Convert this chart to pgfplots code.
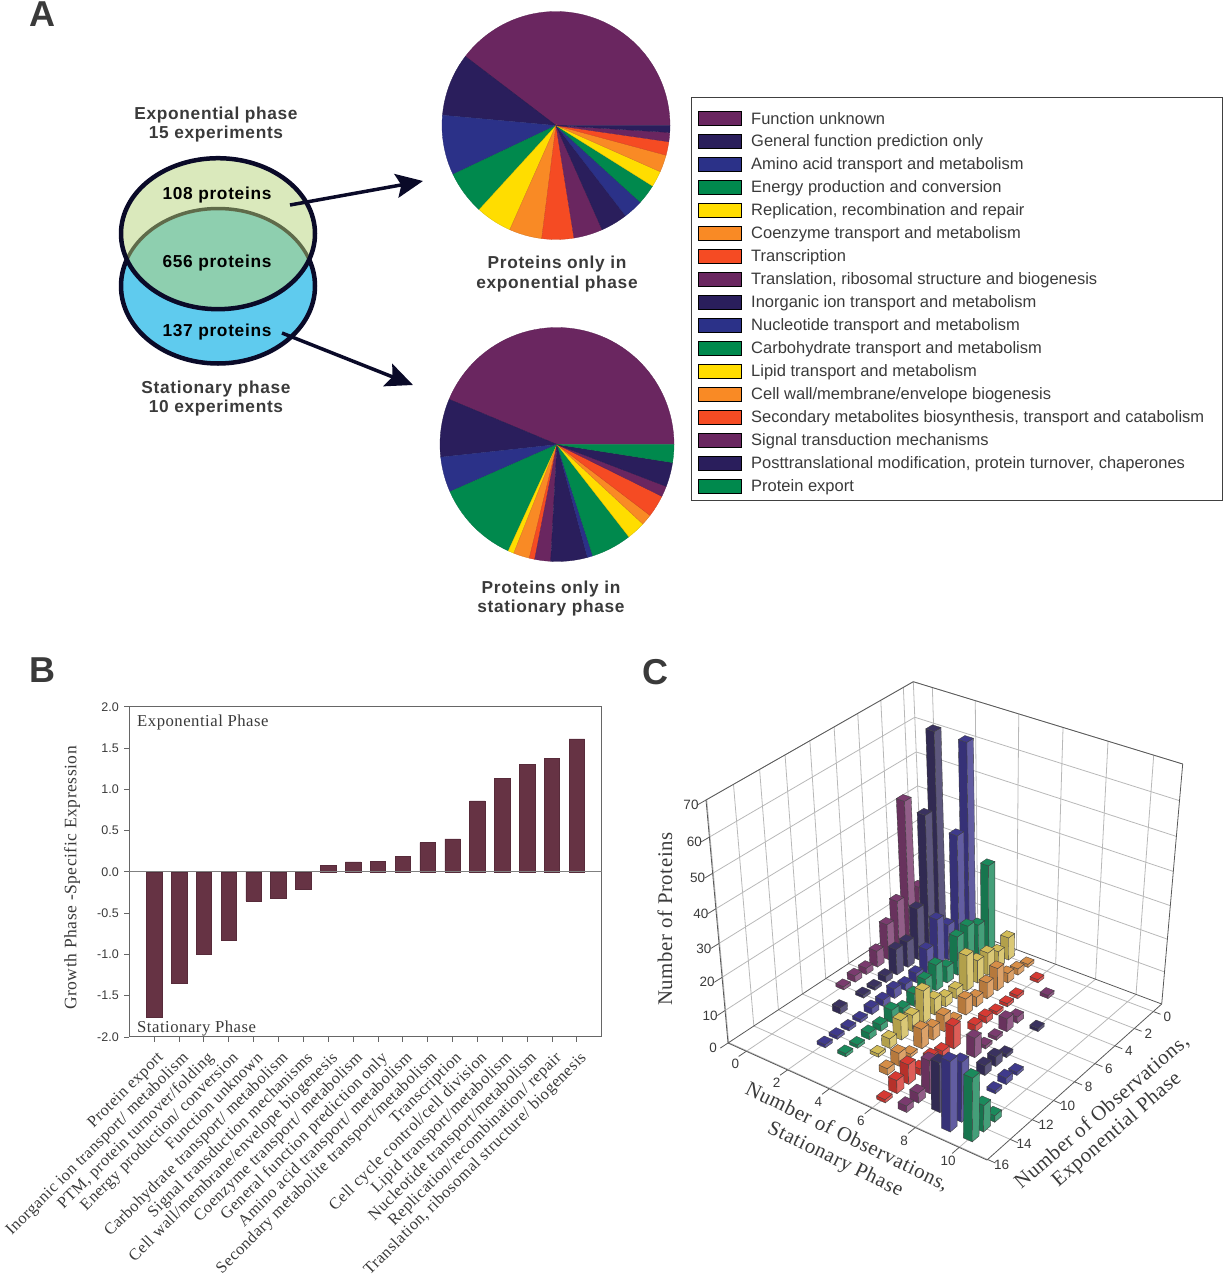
\documentclass[border=0pt]{standalone}
\usepackage{fontspec}
\usepackage{pgfplots}
\pgfplotsset{compat=1.18}
\usetikzlibrary{arrows.meta}
\setmainfont{Liberation Sans}
\newfontfamily\sansSp[LetterSpace=4]{Liberation Sans}
\newfontfamily\tnr{Liberation Serif}
\newfontfamily\tnrSp[LetterSpace=3]{Liberation Serif}
\newcommand\fs[1]{\fontsize{#1}{#1}\selectfont}

% pie / legend colours
\definecolor{cP}{HTML}{6A2660}
\definecolor{cN}{HTML}{2A1E5C}
\definecolor{cB}{HTML}{2B3188}
\definecolor{cG}{HTML}{00894D}
\definecolor{cY}{HTML}{FFDD00}
\definecolor{cO}{HTML}{F98A25}
\definecolor{cR}{HTML}{F54B23}
\definecolor{txt}{HTML}{3A3A3A}
\definecolor{arrowc}{HTML}{0A0A28}
\definecolor{vennBlue}{HTML}{5FCBEE}
\definecolor{vennLight}{HTML}{DAE9BC}
\definecolor{vennMid}{HTML}{8ECFAF}
\definecolor{vennOlive}{HTML}{5F6B4A}
\definecolor{barB}{HTML}{663344}
% 3d bar colours
\definecolor{rP}{HTML}{7A3B6E}
\definecolor{rN}{HTML}{3A3260}
\definecolor{rB}{HTML}{3F3A8C}
\definecolor{rG}{HTML}{1B8A5C}
\definecolor{rY}{HTML}{D2BC58}
\definecolor{rO}{HTML}{D68E48}
\definecolor{rR}{HTML}{D63A33}
\colorlet{rPl}{rP!85!black}\colorlet{rPr}{rP!82!white}
\colorlet{rNl}{rN!85!black}\colorlet{rNr}{rN!82!white}
\colorlet{rBl}{rB!85!black}\colorlet{rBr}{rB!82!white}
\colorlet{rGl}{rG!85!black}\colorlet{rGr}{rG!82!white}
\colorlet{rYl}{rY!85!black}\colorlet{rYr}{rY!82!white}
\colorlet{rOl}{rO!85!black}\colorlet{rOr}{rO!82!white}
\colorlet{rRl}{rR!85!black}\colorlet{rRr}{rR!82!white}

% one pie wedge: start angle, stop angle, colour
\newcommand\pieslice[3]{%
  \def\pts{(#1,0)}%
  \pgfmathtruncatemacro\nn{ceil((#2-#1)/3)}%
  \pgfplotsforeachungrouped \ii in {0,...,\nn}{%
    \pgfmathsetmacro\ang{#1+(#2-#1)*\ii/\nn}%
    \edef\pts{\pts (\ang,1)}}%
  \edef\tmp{\noexpand\addplot[fill=#3,draw=#3!85!black,line width=0.3pt,data cs=polar,forget plot] coordinates {\pts} --cycle;}\tmp}

% panel C box: stationary -0.9..11.25, exponential -0.9..16.05, count 0..70, corners in pixels
\newcommand\proj[4]{%
  \pgfmathsetmacro\tu{(#1+0.9)/12.15}\pgfmathsetmacro\tu{\tu/(1.05-0.05*\tu)}%
  \pgfmathsetmacro\tv{(#2+0.9)/16.95}\pgfmathsetmacro\tv{\tv/(1.11-0.11*\tv)}%
  \pgfmathsetmacro\tw{#3/70}\pgfmathsetmacro\tw{\tw/(1.08-0.08*\tw)}%
  \pgfmathsetmacro\pX{(1-\tw)*((1-\tv)*((1-\tu)*923+\tu*1161.7)+\tv*((1-\tu)*728+\tu*987))+\tw*((1-\tv)*((1-\tu)*913.3+\tu*1182.7)+\tv*((1-\tu)*706+\tu*990.7))}%
  \pgfmathsetmacro\pY{(1-\tw)*((1-\tv)*((1-\tu)*914.5+\tu*1004)+\tv*((1-\tu)*1043+\tu*1160))+\tw*((1-\tv)*((1-\tu)*681.7+\tu*764)+\tv*((1-\tu)*800+\tu*910))}%
  \expandafter\edef\csname #4\endcsname{\pX,\pY}}

% straight line in the box
\newcommand\boxline[7]{%
  \proj{#2}{#3}{#4}{pa}\proj{#5}{#6}{#7}{pb}%
  \edef\tmp{\noexpand\addplot[#1,forget plot] coordinates {(\pa) (\pb)};}\tmp}

% tick label beside a point of the box
\newcommand\boxlabel[6]{%
  \proj{#1}{#2}{#3}{pa}%
  \edef\tmp{\noexpand\node[ticklab,xshift=#4pt,yshift=#5pt] at (axis cs:\pa) {#6};}\tmp}

\newcommand\face[5]{%
  \edef\tmp{\noexpand\addplot[fill=#1,draw=black!75,line width=0.35pt,forget plot] coordinates {(#2) (#3) (#4) (#5)} --cycle;}\tmp}

% one bar: x, y, height, colour
\newcommand\barC[4]{%
  \pgfmathsetmacro\xa{#1-0.2}\pgfmathsetmacro\xb{#1+0.2}%
  \pgfmathsetmacro\ya{#2-0.3}\pgfmathsetmacro\yb{#2+0.3}%
  \proj{\xa}{\yb}{0}{qa}\proj{\xb}{\yb}{0}{qb}\proj{\xb}{\ya}{0}{qc}%
  \proj{\xa}{\yb}{#3}{ra}\proj{\xb}{\yb}{#3}{rb}\proj{\xb}{\ya}{#3}{rc}\proj{\xa}{\ya}{#3}{rd}%
  \face{#4l}{\qa}{\qb}{\rb}{\ra}%
  \face{#4r}{\qb}{\qc}{\rc}{\rb}%
  \face{#4}{\ra}{\rb}{\rc}{\rd}}

\newcommand\legitem[3]{%
  \draw[fill=#2,draw=black,line width=0.5pt] (axis cs:698,#1-7) rectangle (axis cs:741,#1+7);
  \node[anchor=west,inner sep=0pt,font=\fs{16.5},text=txt] at (axis cs:751,#1+1) {#3};}

\tikzset{
  ticklab/.style={font=\fs{13.5},text=txt,inner sep=0pt},
  boxedge/.style={color=black!65,line width=0.8pt},
  boxgrid/.style={color=black!28,line width=0.8pt},
  hd/.style={font=\fs{17.3}\sansSp\bfseries,text=txt,inner sep=0pt},
  panel/.style={font=\fs{36}\bfseries,text=txt,inner sep=0pt},
  captxt/.style={font=\fs{20.8}\tnrSp,text=txt,inner sep=0pt},
}

\begin{document}
\begin{tikzpicture}
\path[use as bounding box] (0,0) rectangle (1223pt,1280pt);

% page layer, coordinates are reference pixels
\begin{axis}[at={(0,0)},anchor=south west,hide axis,scale only axis,x=1pt,y=1pt,
  y dir=reverse,xmin=0,xmax=1223,ymin=0,ymax=1280,clip=false]
\node[panel] at (axis cs:42,14) {A};
\node[panel] at (axis cs:42,670) {B};
\node[panel] at (axis cs:655,672) {C};

% venn
\fill[fill=vennBlue] (axis cs:218,286) ellipse [x radius=97pt,y radius=77.5pt];
\draw[arrowc,line width=4.5pt] (axis cs:218,286) ellipse [x radius=97pt,y radius=77.5pt];
\fill[fill=vennLight] (axis cs:218,233.7) ellipse [x radius=97pt,y radius=75.5pt];
\begin{scope}
\clip (axis cs:218,233.7) ellipse [x radius=97pt,y radius=75.5pt];
\fill[fill=vennMid] (axis cs:218,286) ellipse [x radius=97pt,y radius=77.5pt];
\draw[color=vennOlive,line width=3.5pt] (axis cs:218,286) ellipse [x radius=97pt,y radius=77.5pt];
\end{scope}
\draw[arrowc,line width=4.5pt] (axis cs:218,233.7) ellipse [x radius=97pt,y radius=75.5pt];
\draw[arrowc,line width=3.5pt,-{Stealth[length=27pt,width=24pt,inset=5pt]}] (axis cs:290,205) -- (axis cs:423,181);
\draw[arrowc,line width=3.5pt,-{Stealth[length=27pt,width=24pt,inset=5pt]}] (axis cs:282,333) -- (axis cs:413,385);

\node[hd] at (axis cs:216,115) {Exponential phase};
\node[hd] at (axis cs:216,134) {15 experiments};
\node[hd] at (axis cs:216,389) {Stationary phase};
\node[hd] at (axis cs:216,408) {10 experiments};
\node[hd,text=black] at (axis cs:217,195) {108 proteins};
\node[hd,text=black] at (axis cs:217,263) {656 proteins};
\node[hd,text=black] at (axis cs:217,332) {137 proteins};
\node[hd] at (axis cs:557,264) {Proteins only in};
\node[hd] at (axis cs:557,284) {exponential phase};
\node[hd] at (axis cs:551,589) {Proteins only in};
\node[hd] at (axis cs:551,608) {stationary phase};

% legend
\draw[black!75,line width=0.7pt] (axis cs:691,97) rectangle (axis cs:1222,500);
\legitem{118}{cP}{Function unknown}
\legitem{141}{cN}{General function prediction only}
\legitem{164}{cB}{Amino acid transport and metabolism}
\legitem{187}{cG}{Energy production and conversion}
\legitem{210}{cY}{Replication, recombination and repair}
\legitem{233}{cO}{Coenzyme transport and metabolism}
\legitem{256}{cR}{Transcription}
\legitem{279}{cP}{Translation, ribosomal structure and biogenesis}
\legitem{302}{cN}{Inorganic ion transport and metabolism}
\legitem{325}{cB}{Nucleotide transport and metabolism}
\legitem{348}{cG}{Carbohydrate transport and metabolism}
\legitem{371}{cY}{Lipid transport and metabolism}
\legitem{394}{cO}{Cell wall/membrane/envelope biogenesis}
\legitem{417}{cR}{Secondary metabolites biosynthesis, transport and catabolism}
\legitem{440}{cP}{Signal transduction mechanisms}
\legitem{463}{cN}{Posttranslational modification, protein turnover, chaperones}
\legitem{486}{cG}{Protein export}

% panel B text
\node[font=\fs{17.5}\tnrSp,text=txt,rotate=90,inner sep=0pt] at (axis cs:72,878) {Growth Phase -Specific Expression};
\node[font=\fs{16.7}\tnrSp,text=txt,anchor=west,inner sep=0pt] at (axis cs:137,722) {Exponential Phase};
\node[font=\fs{16.7}\tnrSp,text=txt,anchor=west,inner sep=0pt] at (axis cs:137,1028) {Stationary Phase};

% panel C walls and floor
\pgfplotsforeachungrouped \zz in {10,20,...,70}{%
  \boxline{boxgrid}{-0.9}{16.05}{\zz}{-0.9}{-0.9}{\zz}%
  \boxline{boxgrid}{-0.9}{-0.9}{\zz}{11.25}{-0.9}{\zz}}
\pgfplotsforeachungrouped \vv in {0,2,...,16}{%
  \boxline{boxgrid}{-0.9}{\vv}{0}{-0.9}{\vv}{70}%
  \boxline{boxgrid}{-0.9}{\vv}{0}{11.25}{\vv}{0}}
\pgfplotsforeachungrouped \vv in {0,2,...,10}{%
  \boxline{boxgrid}{\vv}{-0.9}{0}{\vv}{-0.9}{70}%
  \boxline{boxgrid}{\vv}{-0.9}{0}{\vv}{16.05}{0}}
\boxline{boxgrid}{-0.9}{-0.9}{0}{-0.9}{-0.9}{70}
\boxline{boxedge}{-0.9}{16.05}{70}{-0.9}{-0.9}{70}
\boxline{boxedge}{-0.9}{-0.9}{70}{11.25}{-0.9}{70}
\boxline{boxedge}{-0.9}{16.05}{0}{-0.9}{16.05}{70}
\boxline{boxedge}{11.25}{-0.9}{0}{11.25}{-0.9}{70}
\boxline{boxedge}{-0.9}{16.05}{0}{11.25}{16.05}{0}
\boxline{boxedge}{11.25}{16.05}{0}{11.25}{-0.9}{0}
\boxline{boxedge}{-0.9}{16.05}{0}{-0.9}{-0.9}{0}
\boxline{boxedge}{-0.9}{-0.9}{0}{11.25}{-0.9}{0}

% panel C ticks and labels
\pgfplotsforeachungrouped \zz in {0,10,...,70}{%
  \boxline{boxedge}{-0.9}{16.05}{\zz}{-0.9}{16.65}{\zz}%
  \boxlabel{-0.9}{16.05}{\zz}{-15}{-5}{\zz}}
\pgfplotsforeachungrouped \vv in {0,2,...,10}{%
  \boxline{boxedge}{\vv}{16.05}{0}{\vv}{16.65}{0}%
  \boxlabel{\vv}{16.05}{0}{-11}{-13}{\vv}}
\pgfplotsforeachungrouped \vv in {0,2,...,16}{%
  \boxline{boxedge}{11.25}{\vv}{0}{11.6}{\vv}{0}%
  \boxlabel{11.25}{\vv}{0}{14}{-5}{\vv}}
\node[captxt,rotate=90] at (axis cs:665,919) {Number of Proteins};
\node[captxt,rotate=-26] at (axis cs:847,1137) {Number of Observations,};
\node[captxt,rotate=-26] at (axis cs:835,1160) {Stationary Phase};
\node[captxt,rotate=41] at (axis cs:1102,1112) {Number of Observations,};
\node[captxt,rotate=41] at (axis cs:1117,1130) {Exponential Phase};

% panel C bars, x y count, painted back to front
\barC{0}{1}{16}{rP}\barC{0}{2}{44}{rP}\barC{0}{3}{16}{rP}\barC{0}{4}{11}{rP}
\barC{0}{5}{5}{rP}\barC{0}{6}{2}{rP}\barC{0}{7}{2}{rP}\barC{0}{8}{1}{rP}
\barC{1}{1}{64}{rN}\barC{1}{2}{42}{rN}\barC{1}{3}{16}{rN}\barC{1}{4}{8}{rN}\barC{1}{5}{8}{rN}
\barC{1}{6}{2}{rN}\barC{1}{7}{1}{rN}\barC{1}{8}{1}{rN}\barC{1}{10}{2}{rN}
\barC{2}{0}{61}{rB}\barC{2}{1}{36}{rB}\barC{2}{2}{11}{rB}\barC{2}{3}{15}{rB}\barC{2}{4}{8}{rB}
\barC{2}{5}{3}{rB}\barC{2}{6}{2}{rB}\barC{2}{7}{3}{rB}\barC{2}{8}{2}{rB}\barC{2}{9}{2}{rB}
\barC{2}{10}{1}{rB}\barC{2}{11}{1}{rB}\barC{2}{12}{1}{rB}\barC{2}{13}{1}{rB}
\barC{3}{0}{27}{rG}\barC{3}{1}{11}{rG}\barC{3}{2}{13}{rG}\barC{3}{3}{12}{rG}\barC{3}{4}{5}{rG}
\barC{3}{5}{8}{rG}\barC{3}{6}{6}{rG}\barC{3}{7}{4}{rG}\barC{3}{8}{2}{rG}\barC{3}{9}{4}{rG}
\barC{3}{10}{2}{rG}\barC{3}{11}{2}{rG}\barC{3}{12}{1}{rG}\barC{3}{13}{1}{rG}
\barC{4}{0}{7}{rY}\barC{4}{1}{5}{rY}\barC{4}{2}{7}{rY}\barC{4}{3}{7}{rY}\barC{4}{4}{11}{rY}
\barC{4}{5}{3}{rY}\barC{4}{6}{3}{rY}\barC{4}{7}{5}{rY}\barC{4}{8}{10}{rY}\barC{4}{9}{5}{rY}
\barC{4}{10}{6}{rY}\barC{4}{11}{3}{rY}\barC{4}{12}{1}{rY}
\barC{5}{0}{1}{rO}\barC{5}{1}{2}{rO}\barC{5}{2}{3}{rO}\barC{5}{3}{7}{rO}\barC{5}{4}{5}{rO}
\barC{5}{5}{3}{rO}\barC{5}{6}{5}{rO}\barC{5}{7}{1}{rO}\barC{5}{8}{5}{rO}\barC{5}{9}{4}{rO}
\barC{5}{10}{6}{rO}\barC{5}{11}{1}{rO}\barC{5}{12}{4}{rO}\barC{5}{13}{2}{rO}
\barC{6}{1}{1}{rR}\barC{6}{3}{1}{rR}\barC{6}{4}{1}{rR}\barC{6}{5}{1}{rR}\barC{6}{6}{2}{rR}
\barC{6}{7}{2}{rR}\barC{6}{9}{7}{rR}\barC{6}{10}{2}{rR}\barC{6}{11}{3}{rR}\barC{6}{12}{2}{rR}
\barC{6}{13}{6}{rR}\barC{6}{14}{4}{rR}\barC{6}{15}{1}{rR}
\barC{7}{2}{1}{rP}\barC{7}{5}{2}{rP}\barC{7}{6}{4}{rP}\barC{7}{7}{1}{rP}\barC{7}{8}{1}{rP}
\barC{7}{9}{6}{rP}\barC{7}{13}{10}{rP}\barC{7}{14}{3}{rP}\barC{7}{15}{2}{rP}
\barC{8}{5}{1}{rN}\barC{8}{8}{1}{rN}\barC{8}{9}{3}{rN}\barC{8}{10}{3}{rN}\barC{8}{14}{15}{rN}
\barC{9}{9}{1}{rB}\barC{9}{10}{2}{rB}\barC{9}{11}{1}{rB}\barC{9}{14}{18}{rB}\barC{9}{15}{21}{rB}
\barC{10}{13}{2}{rG}\barC{10}{14}{8}{rG}\barC{10}{15}{19}{rG}
\end{axis}

% pie, exponential phase
\begin{axis}[at={(556pt,1154.5pt)},anchor=center,hide axis,scale only axis,width=228pt,height=228pt,
  xmin=-1,xmax=1,ymin=-1,ymax=1,clip=false]
\pieslice{0}{142.7}{cP}\pieslice{142.7}{174.8}{cN}\pieslice{174.8}{205.4}{cB}
\pieslice{205.4}{227.6}{cG}\pieslice{227.6}{246.1}{cY}\pieslice{246.1}{262.8}{cO}
\pieslice{262.8}{279.1}{cR}\pieslice{279.1}{293.9}{cP}\pieslice{293.9}{307.6}{cN}
\pieslice{307.6}{317.7}{cB}\pieslice{317.7}{327.9}{cG}\pieslice{327.9}{336.1}{cY}
\pieslice{336.1}{344.9}{cO}\pieslice{344.9}{351.8}{cR}\pieslice{351.8}{356.5}{cP}
\pieslice{356.5}{360}{cN}
\end{axis}

% pie, stationary phase
\begin{axis}[at={(557pt,835.5pt)},anchor=center,hide axis,scale only axis,width=234pt,height=234pt,
  xmin=-1,xmax=1,ymin=-1,ymax=1,clip=false]
\pieslice{0}{157.3}{cP}\pieslice{157.3}{186.2}{cN}\pieslice{186.2}{203.8}{cB}
\pieslice{203.8}{245.4}{cG}\pieslice{245.4}{248.3}{cY}\pieslice{248.3}{256.3}{cO}
\pieslice{256.3}{259}{cR}\pieslice{259}{266.9}{cP}\pieslice{266.9}{285.1}{cN}
\pieslice{285.1}{287.8}{cB}\pieslice{287.8}{307.9}{cG}\pieslice{307.9}{317.2}{cY}
\pieslice{317.2}{322.7}{cO}\pieslice{322.7}{333.7}{cR}\pieslice{333.7}{339}{cP}
\pieslice{339}{351.1}{cN}\pieslice{351.1}{360}{cG}
\end{axis}

% panel B
\begin{axis}[at={(129.3pt,243pt)},anchor=south west,scale only axis,width=472.4pt,height=330.3pt,
  xmin=-1,xmax=18,ymin=-2,ymax=2,
  axis line style={color=black!60,line width=1pt},
  tick style={color=black!60,line width=0.8pt},
  tick align=outside,major tick length=5pt,xtick pos=bottom,ytick pos=left,
  ytick={-2,-1.5,...,2},
  yticklabel style={font=\fs{12.5},text=txt,xshift=-2pt,/pgf/number format/.cd,fixed,fixed zerofill,precision=1,assume math mode=true},
  xtick={0,...,17},
  xticklabels={Protein export,Inorganic ion transport/ metabolism,{PTM, protein turnover/folding},
    Energy production/ conversion,Function unknown,Carbohydrate transport/ metabolism,
    Signal transduction mechanisms,Cell wall/membrane/envelope biogenesis,Coenzyme transport/ metabolism,
    General function prediction only,Amino acid transport/ metabolism,Secondary metabolite transport/metabolism,
    Transcription,Cell cycle control/cell division,Lipid transport/metabolism,Nucleotide transport/metabolism,
    Replication/recombination/ repair,{Translation, ribosomal structure/ biogenesis}},
  xticklabel style={xshift=2pt,yshift=-7pt,rotate=45,anchor=north east,font=\fs{16.4}\tnrSp,text=txt,inner sep=1pt},
]
\addplot[ybar,bar width=15.5pt,fill=barB,draw=barB!85!black,line width=0.5pt] coordinates {
  (0,-1.76) (1,-1.35) (2,-1.00) (3,-0.83) (4,-0.35) (5,-0.32) (6,-0.21)
  (7,0.08) (8,0.12) (9,0.13) (10,0.19) (11,0.355) (12,0.40) (13,0.86)
  (14,1.13) (15,1.30) (16,1.37) (17,1.61)};
\addplot[color=black!50,line width=1.3pt] coordinates {(-1,0) (18,0)};
\end{axis}
\end{tikzpicture}
\end{document}
